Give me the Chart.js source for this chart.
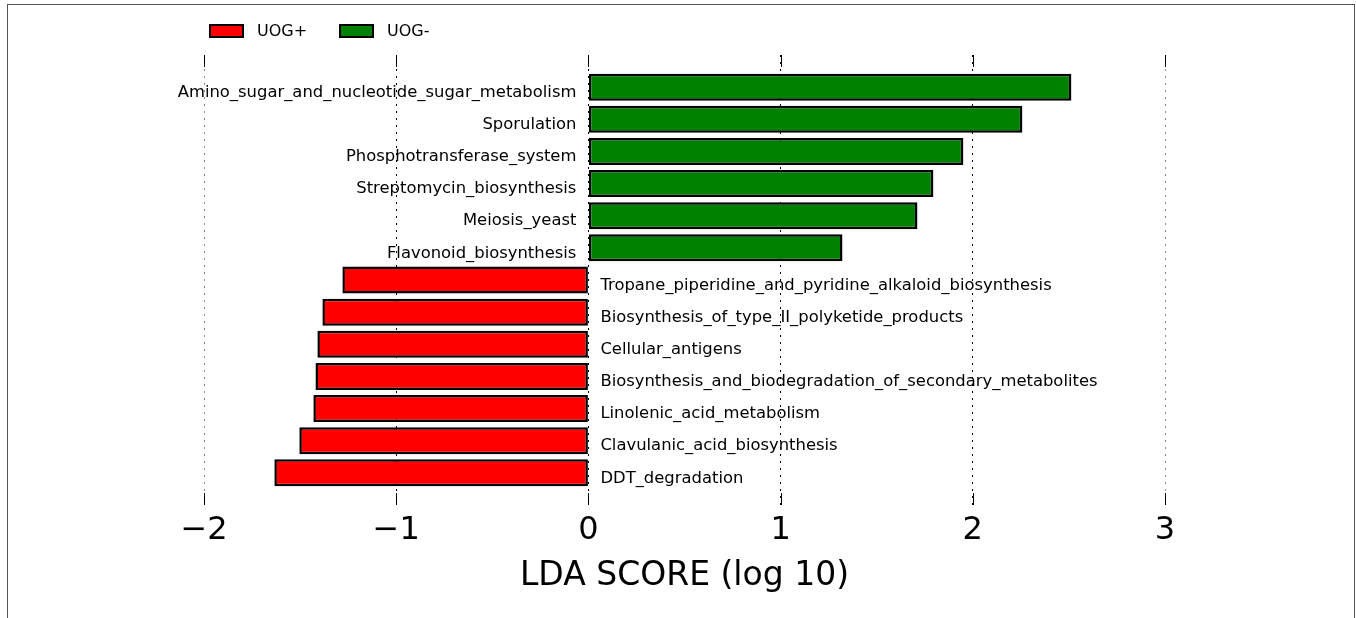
<!DOCTYPE html>
<html>
<head>
<meta charset="utf-8">
<script src="https://cdn.jsdelivr.net/npm/chart.js@4/dist/chart.umd.min.js"></script>
<style>
  html, body { margin: 0; padding: 0; background: #fff; overflow: hidden; }
  #frame { position: absolute; left: 7px; top: 4px; width: 1346px; height: 700px; border: 1px solid #555; }
  #wrap { position: absolute; left: 0; top: 0; width: 1356px; height: 618px; }
</style>
</head>
<body>
<div id="frame"></div>
<div id="wrap"><canvas id="c" width="1356" height="618"></canvas></div>
<script>
const categories = [
  'Amino_sugar_and_nucleotide_sugar_metabolism',
  'Sporulation',
  'Phosphotransferase_system',
  'Streptomycin_biosynthesis',
  'Meiosis_yeast',
  'Flavonoid_biosynthesis',
  'Tropane_piperidine_and_pyridine_alkaloid_biosynthesis',
  'Biosynthesis_of_type_II_polyketide_products',
  'Cellular_antigens',
  'Biosynthesis_and_biodegradation_of_secondary_metabolites',
  'Linolenic_acid_metabolism',
  'Clavulanic_acid_biosynthesis',
  'DDT_degradation'
];
const uogMinus = [2.513, 2.258, 1.951, 1.795, 1.712, 1.322, null, null, null, null, null, null, null];
const uogPlus  = [null, null, null, null, null, null, -1.280, -1.384, -1.410, -1.420, -1.431, -1.504, -1.634];
const xTicks = [-2, -1, 0, 1, 2, 3];
const seriesNames = ['UOG+', 'UOG-'];
const seriesColors = ['#ff0000', '#008000'];

const labels = [''].concat(categories, ['']);
const pad = arr => [null].concat(arr, [null]);

const FONT = "'DejaVu Sans', sans-serif";

const overlay = {
  id: 'overlay',
  afterDatasetsDraw(chart) {
    const ctx = chart.ctx;
    const a = chart.chartArea;
    const xs = chart.scales.x, ys = chart.scales.y;
    ctx.save();
    // inward tick marks
    ctx.strokeStyle = '#000';
    ctx.lineWidth = 1;
    xTicks.forEach(v => {
      const px = Math.round(xs.getPixelForValue(v)) + 0.5;
      ctx.beginPath();
      ctx.moveTo(px, a.top); ctx.lineTo(px, a.top + 12);
      ctx.moveTo(px, a.bottom); ctx.lineTo(px, a.bottom - 12);
      ctx.stroke();
    });
    // category labels
    ctx.font = '16.4px ' + FONT;
    ctx.fillStyle = '#000';
    ctx.textBaseline = 'middle';
    const zero = xs.getPixelForValue(0);
    categories.forEach((c, i) => {
      const py = ys.getPixelForValue(i + 1) + 5.5;
      const pos = uogMinus[i] !== null;
      ctx.textAlign = pos ? 'right' : 'left';
      ctx.fillText(c, pos ? zero - 12 : zero + 12, py);
    });
    // legend
    ctx.font = '16px ' + FONT;
    const lx = [210, 340];
    seriesNames.forEach((n, i) => {
      ctx.fillStyle = seriesColors[i];
      ctx.fillRect(lx[i], 25, 33, 12);
      ctx.lineWidth = 2;
      ctx.strokeStyle = '#000';
      ctx.strokeRect(lx[i], 25, 33, 12);
      ctx.fillStyle = '#000';
      ctx.textAlign = 'left';
      ctx.textBaseline = 'middle';
      ctx.fillText(n, lx[i] + 47, 32);
    });
    ctx.restore();
  }
};

new Chart(document.getElementById('c'), {
  type: 'bar',
  data: {
    labels: labels,
    datasets: [
      { label: seriesNames[0], data: pad(uogPlus), backgroundColor: seriesColors[0], borderColor: '#000', borderWidth: 2.5, borderSkipped: false, grouped: false, barPercentage: 0.84, categoryPercentage: 1 },
      { label: seriesNames[1], data: pad(uogMinus), backgroundColor: seriesColors[1], borderColor: '#000', borderWidth: 2.5, borderSkipped: false, grouped: false, barPercentage: 0.84, categoryPercentage: 1 }
    ]
  },
  options: {
    indexAxis: 'y',
    responsive: false,
    animation: false,
    layout: { padding: { left: 204, right: 191, top: 55, bottom: 0 } },
    plugins: { legend: { display: false }, tooltip: { enabled: false } },
    scales: {
      y: { display: false, offset: false },
      x: {
        min: -2, max: 3,
        afterBuildTicks: s => { s.ticks = xTicks.map(v => ({ value: v })); },
        afterFit: s => { s.height = 113; },
        grid: {
          drawTicks: false,
          color: ctx => (ctx.tick && (ctx.tick.value === -2 || ctx.tick.value === 3)) ? '#888' : '#000',
          lineWidth: 1
        },
        border: { display: false, dash: [2, 5] },
        ticks: {
          padding: 6,
          color: '#000',
          font: { family: FONT, size: 32 },
          callback: v => (v < 0 ? '\u2212' + Math.abs(v) : String(v))
        },
        title: {
          display: true,
          text: 'LDA SCORE (log 10)',
          color: '#000',
          font: { family: FONT, size: 33 },
          padding: { top: 4, bottom: 22 }
        }
      }
    }
  },
  plugins: [overlay]
});
</script>
</body>
</html>
